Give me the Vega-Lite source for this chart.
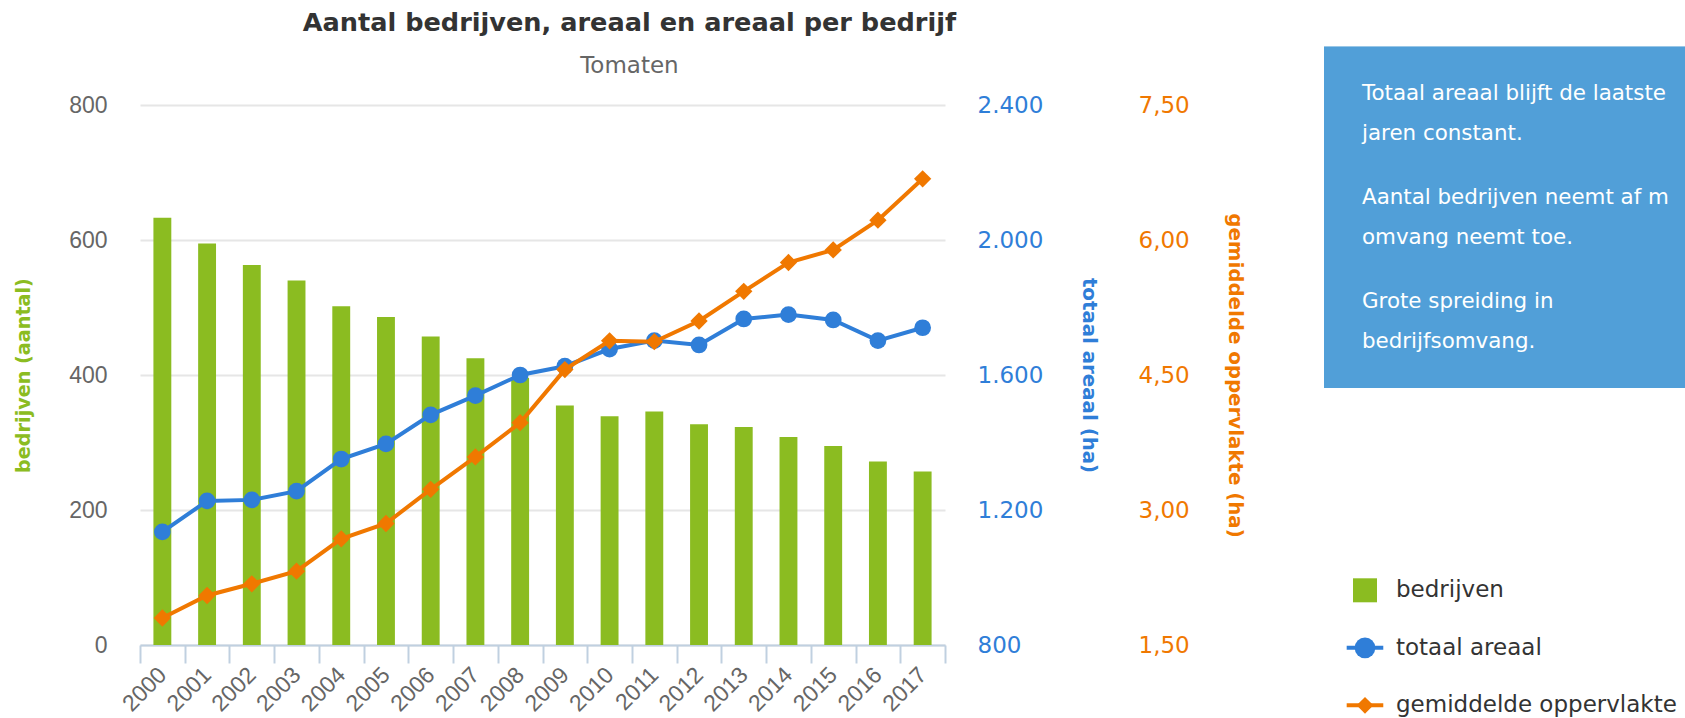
{
  "$schema": "https://vega.github.io/schema/vega-lite/v6.json",
  "padding": {"left": 14, "top": 11, "right": 0, "bottom": 0},
  "background": "white",
  "config": {"view": {"stroke": null}},
  "spacing": 79,
  "hconcat": [
    {
      "width": 805,
      "height": 540,
      "title": {
        "text": "Aantal bedrijven, areaal en areaal per bedrijf",
        "subtitle": "Tomaten",
        "font": "DejaVu Sans",
        "fontSize": 25.6,
        "fontWeight": "bold",
        "color": "#333333",
        "subtitleFont": "DejaVu Sans",
        "subtitleFontSize": 23,
        "subtitleColor": "#666666",
        "subtitlePadding": 18,
        "offset": 16,
        "frame": "bounds",
        "anchor": "middle"
      },
      "data": {
        "values": [
          {"jaar": "2000", "bedrijven": 633, "areaal": 1135, "gemiddeld": 1.80},
          {"jaar": "2001", "bedrijven": 595, "areaal": 1227, "gemiddeld": 2.05},
          {"jaar": "2002", "bedrijven": 563, "areaal": 1230, "gemiddeld": 2.18},
          {"jaar": "2003", "bedrijven": 540, "areaal": 1256, "gemiddeld": 2.32},
          {"jaar": "2004", "bedrijven": 502, "areaal": 1351, "gemiddeld": 2.68},
          {"jaar": "2005", "bedrijven": 486, "areaal": 1396, "gemiddeld": 2.85},
          {"jaar": "2006", "bedrijven": 457, "areaal": 1482, "gemiddeld": 3.23},
          {"jaar": "2007", "bedrijven": 425, "areaal": 1539, "gemiddeld": 3.59},
          {"jaar": "2008", "bedrijven": 396, "areaal": 1600, "gemiddeld": 3.97},
          {"jaar": "2009", "bedrijven": 355, "areaal": 1626, "gemiddeld": 4.56},
          {"jaar": "2010", "bedrijven": 339, "areaal": 1677, "gemiddeld": 4.88},
          {"jaar": "2011", "bedrijven": 346, "areaal": 1702, "gemiddeld": 4.87},
          {"jaar": "2012", "bedrijven": 327, "areaal": 1689, "gemiddeld": 5.10},
          {"jaar": "2013", "bedrijven": 323, "areaal": 1766, "gemiddeld": 5.43},
          {"jaar": "2014", "bedrijven": 308, "areaal": 1779, "gemiddeld": 5.75},
          {"jaar": "2015", "bedrijven": 295, "areaal": 1763, "gemiddeld": 5.89},
          {"jaar": "2016", "bedrijven": 272, "areaal": 1702, "gemiddeld": 6.22},
          {"jaar": "2017", "bedrijven": 257, "areaal": 1740, "gemiddeld": 6.68}
        ]
      },
      "encoding": {
        "x": {
          "field": "jaar",
          "type": "ordinal",
          "scale": {"paddingInner": 0, "paddingOuter": 0},
          "axis": {
            "title": null,
            "labelAngle": -45,
            "labelAlign": "right",
            "labelBaseline": "middle",
            "labelFont": "Liberation Sans",
            "labelFontSize": 23,
            "labelColor": "#666666",
            "labelPadding": 8,
            "domainColor": "#c0d0e0",
            "domainWidth": 2,
            "tickColor": "#c0d0e0",
            "tickWidth": 2,
            "tickSize": 18,
            "tickBand": "extent",
            "grid": false
          }
        }
      },
      "layer": [
        {
          "mark": {"type": "bar", "color": "#8bbc21", "width": {"band": 0.4}},
          "encoding": {
            "y": {
              "field": "bedrijven",
              "type": "quantitative",
              "scale": {"domain": [0, 800]},
              "axis": {
                "orient": "left",
                "title": "bedrijven (aantal)",
                "titleColor": "#8bbc21",
                "titleFont": "DejaVu Sans",
                "titleFontSize": 19.2,
                "titleFontWeight": "bold",
                "titlePadding": 35,
                "values": [0, 200, 400, 600, 800],
                "labelFont": "Liberation Sans",
                "labelFontSize": 23,
                "labelColor": "#666666",
                "labelPadding": 33,
                "ticks": false,
                "domain": false,
                "grid": true,
                "gridColor": "#e6e6e6",
                "gridWidth": 2
              }
            }
          }
        },
        {
          "mark": {
            "type": "line",
            "color": "#2f7ed8",
            "strokeWidth": 4,
            "point": {"filled": true, "shape": "circle", "size": 280, "color": "#2f7ed8", "opacity": 1}
          },
          "encoding": {
            "y": {
              "field": "areaal",
              "type": "quantitative",
              "scale": {"domain": [800, 2400]},
              "axis": {
                "orient": "right",
                "title": "totaal areaal (ha)",
                "titleColor": "#2f7ed8",
                "titleFont": "DejaVu Sans",
                "titleFontSize": 19.8,
                "titleFontWeight": "bold",
                "titlePadding": 36,
                "values": [800, 1200, 1600, 2000, 2400],
                "labelExpr": "replace(format(datum.value, ',.0f'), ',', '.')",
                "labelFont": "DejaVu Sans",
                "labelFontSize": 23,
                "labelColor": "#2f7ed8",
                "labelPadding": 32,
                "ticks": false,
                "domain": false,
                "grid": false
              }
            }
          }
        },
        {
          "mark": {
            "type": "line",
            "color": "#f07800",
            "strokeWidth": 4,
            "point": {"filled": true, "shape": "diamond", "size": 300, "color": "#f07800", "opacity": 1}
          },
          "encoding": {
            "y": {
              "field": "gemiddeld",
              "type": "quantitative",
              "scale": {"domain": [1.5, 7.5]},
              "axis": {
                "orient": "right",
                "offset": 161,
                "title": "gemiddelde oppervlakte (ha)",
                "titleColor": "#f07800",
                "titleFont": "DejaVu Sans",
                "titleFontSize": 19.8,
                "titleFontWeight": "bold",
                "titlePadding": 35,
                "values": [1.5, 3, 4.5, 6, 7.5],
                "labelExpr": "replace(format(datum.value, '.2f'), '.', ',')",
                "labelFont": "DejaVu Sans",
                "labelFontSize": 23,
                "labelColor": "#f07800",
                "labelPadding": 32,
                "ticks": false,
                "domain": false,
                "grid": false
              }
            }
          }
        }
      ],
      "resolve": {"scale": {"y": "independent"}}
    },
    {
      "spacing": 169,
      "vconcat": [
        {
          "width": 361,
          "height": 283,
          "data": {
            "values": [
              {"p": 0, "tekst": "Totaal areaal blijft de laatste\njaren constant."},
              {"p": 1, "tekst": "Aantal bedrijven neemt af maar\nomvang neemt toe."},
              {"p": 2, "tekst": "Grote spreiding in\nbedrijfsomvang."}
            ]
          },
          "encoding": {
            "y": {"field": "p", "type": "quantitative", "scale": {"domain": [0.051, 2.772], "reverse": true}, "axis": null}
          },
          "layer": [
            {
              "mark": {"type": "rect", "color": "#519fd8"},
              "encoding": {
                "x": {"datum": 0, "type": "quantitative", "scale": {"domain": [0, 9.5]}, "axis": null},
                "x2": {"datum": 9.5},
                "y": {"datum": -0.5096, "type": "quantitative"},
                "y2": {"datum": 2.772}
              }
            },
            {
              "mark": {
                "type": "text",
                "align": "left",
                "baseline": "alphabetic",
                "color": "white",
                "font": "DejaVu Sans",
                "fontSize": 21.4,
                "lineHeight": 40,
                "lineBreak": "\n",
                "limit": 323,
                "ellipsis": " "
              },
              "encoding": {
                "x": {"datum": 1, "type": "quantitative", "scale": {"domain": [0, 9.5]}, "axis": null},
                "text": {"field": "tekst"}
              }
            }
          ]
        },
        {
          "width": 361,
          "height": 160,
          "data": {
            "values": [
              {"reeks": "bedrijven", "i": 0},
              {"reeks": "totaal areaal", "i": 1},
              {"reeks": "gemiddelde oppervlakte", "i": 2}
            ]
          },
          "encoding": {
            "y": {"field": "i", "type": "quantitative", "scale": {"domain": [-0.579, 2.203], "reverse": true}, "axis": null}
          },
          "layer": [
            {
              "transform": [{"filter": "datum.reeks != 'bedrijven'"}],
              "mark": {"type": "rule", "strokeWidth": 4},
              "encoding": {
                "x": {"datum": 0.597, "type": "quantitative", "scale": {"domain": [0, 9.5]}, "axis": null},
                "x2": {"datum": 1.56},
                "color": {
                  "field": "reeks",
                  "type": "nominal",
                  "scale": {"domain": ["bedrijven", "totaal areaal", "gemiddelde oppervlakte"], "range": ["#8bbc21", "#2f7ed8", "#f07800"]},
                  "legend": null
                }
              }
            },
            {
              "mark": {"type": "point", "filled": true, "opacity": 1},
              "encoding": {
                "x": {"datum": 1.079, "type": "quantitative", "scale": {"domain": [0, 9.5]}, "axis": null},
                "shape": {
                  "field": "reeks",
                  "type": "nominal",
                  "scale": {"domain": ["bedrijven", "totaal areaal", "gemiddelde oppervlakte"], "range": ["square", "circle", "diamond"]},
                  "legend": null
                },
                "size": {
                  "field": "reeks",
                  "type": "ordinal",
                  "scale": {"domain": ["bedrijven", "totaal areaal", "gemiddelde oppervlakte"], "range": [576, 280, 300]},
                  "legend": null
                },
                "color": {
                  "field": "reeks",
                  "type": "nominal",
                  "scale": {"domain": ["bedrijven", "totaal areaal", "gemiddelde oppervlakte"], "range": ["#8bbc21", "#2f7ed8", "#f07800"]},
                  "legend": null
                }
              }
            },
            {
              "mark": {"type": "text", "align": "left", "baseline": "middle", "font": "DejaVu Sans", "fontSize": 23, "color": "#333333"},
              "encoding": {
                "x": {"datum": 1.895, "type": "quantitative", "scale": {"domain": [0, 9.5]}, "axis": null},
                "text": {"field": "reeks"}
              }
            }
          ]
        }
      ]
    }
  ]
}
